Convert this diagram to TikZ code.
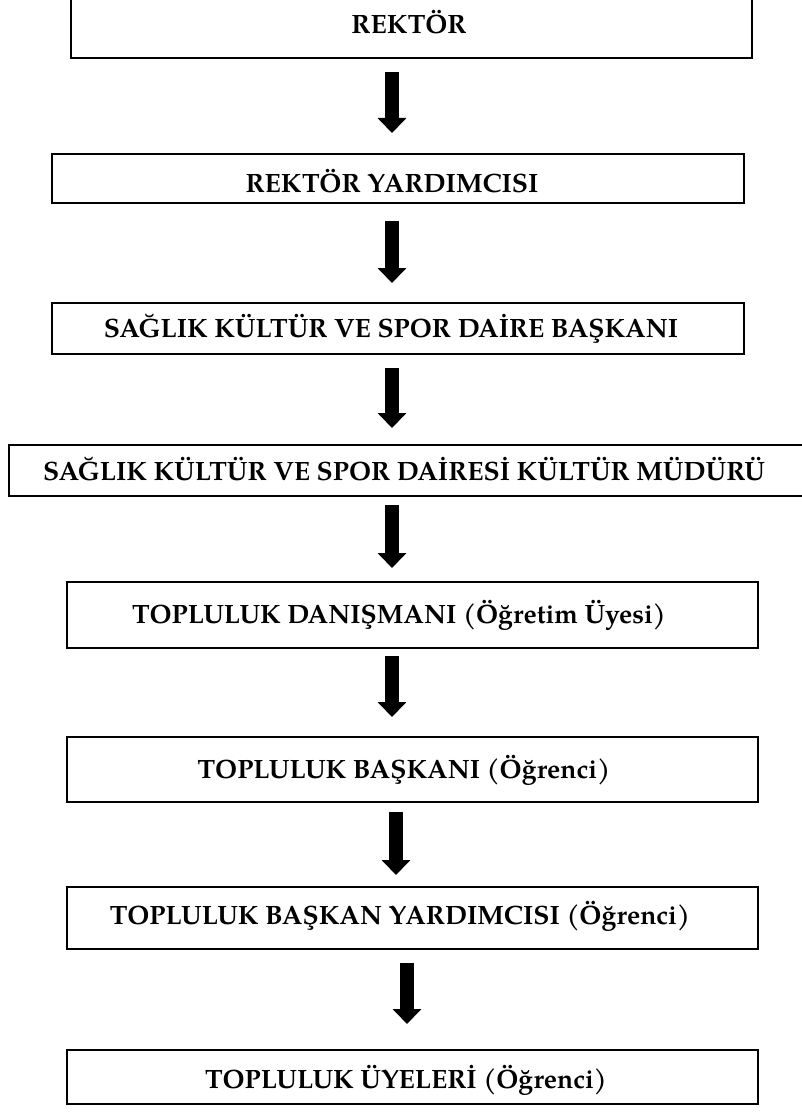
\documentclass[tikz,border=0pt]{standalone}
\usepackage{fontspec}
\setmainfont{TeX Gyre Pagella}
\usetikzlibrary{arrows.meta}
\begin{document}
\begin{tikzpicture}[x=1pt,y=-1pt,
  box/.style={draw, line width=1.7pt, rectangle, inner sep=0pt, anchor=north west},
  lbl/.style={inner sep=0pt, anchor=base, font=\fontsize{26.5}{32}\selectfont\bfseries},
  bigarrow/.style={line width=14pt, -{Triangle[length=15pt,width=28pt]}}]
\useasboundingbox (0,0) rectangle (801,1113);
% boxes
\node[box, minimum width=681pt, minimum height=64pt] (b1) at (70,-7) {};
\node[box, minimum width=692pt, minimum height=49pt] (b2) at (51,153) {};
\node[box, minimum width=692pt, minimum height=51pt] (b3) at (51,302) {};
\node[box, minimum width=820pt, minimum height=51pt] (b4) at (8,444) {};
\node[box, minimum width=691pt, minimum height=66pt] (b5) at (66,581) {};
\node[box, minimum width=691pt, minimum height=65pt] (b6) at (66,736) {};
\node[box, minimum width=691pt, minimum height=62pt] (b7) at (66,886) {};
\node[box, minimum width=691pt, minimum height=54pt] (b8) at (66,1049) {};
% texts
\node[lbl] (t1) at (409,34) {REKTÖR};
\node[lbl] (t2) at (392,192) {REKTÖR YARDIMCISI};
\node[lbl] (t3) at (391,337.5) {SAĞLIK KÜLTÜR VE SPOR DAİRE BAŞKANI};
\node[lbl] (t4) at (404,480) {SAĞLIK KÜLTÜR VE SPOR DAİRESİ KÜLTÜR MÜDÜRÜ};
\node[lbl] (t5) at (399,623.5) {TOPLULUK DANIŞMANI (Öğretim Üyesi)};
\node[lbl] (t6) at (404,778.5) {TOPLULUK BAŞKANI (Öğrenci)};
\node[lbl] (t7) at (400,924.5) {TOPLULUK BAŞKAN YARDIMCISI (Öğrenci)};
\node[lbl] (t8) at (406,1088) {TOPLULUK ÜYELERİ (Öğrenci)};
% arrows
\coordinate (a1s) at (392,72);   \coordinate (a1e) at (392,133);
\coordinate (a2s) at (392,221);  \coordinate (a2e) at (392,283);
\coordinate (a3s) at (392,368);  \coordinate (a3e) at (392,428);
\coordinate (a4s) at (392,505);  \coordinate (a4e) at (392,568);
\coordinate (a5s) at (392,656);  \coordinate (a5e) at (392,717);
\coordinate (a6s) at (396,812);  \coordinate (a6e) at (396,875);
\coordinate (a7s) at (407,963);  \coordinate (a7e) at (407,1024);
\draw[bigarrow] (a1s) -- (a1e);
\draw[bigarrow] (a2s) -- (a2e);
\draw[bigarrow] (a3s) -- (a3e);
\draw[bigarrow] (a4s) -- (a4e);
\draw[bigarrow] (a5s) -- (a5e);
\draw[bigarrow] (a6s) -- (a6e);
\draw[bigarrow] (a7s) -- (a7e);
\end{tikzpicture}
\end{document}
